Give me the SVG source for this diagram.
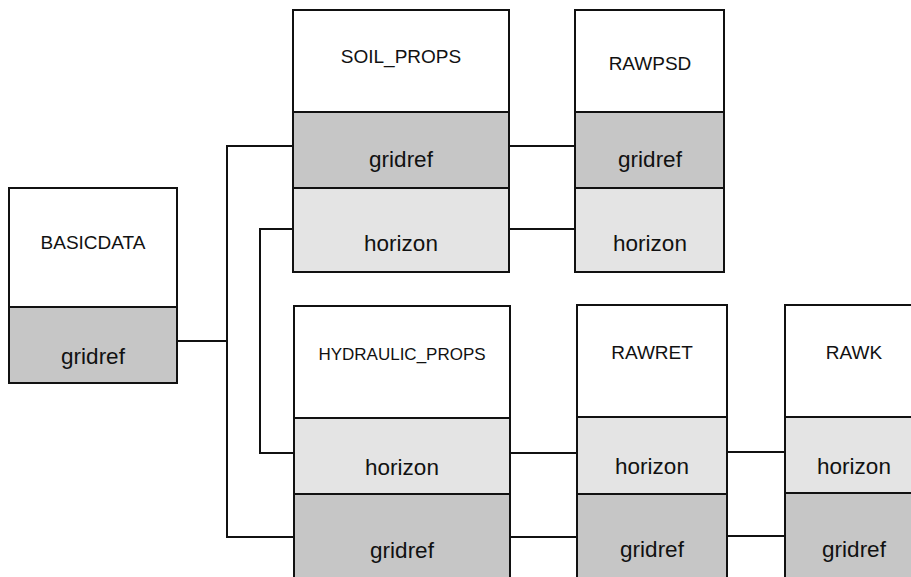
<svg xmlns="http://www.w3.org/2000/svg" width="911" height="577" viewBox="0 0 911 577">
  <style>
    .box { stroke: #111; stroke-width: 2; }
    .title { fill: #fff; }
    .key { fill: #c6c6c6; }
    .hz { fill: #e4e4e4; }
    .wire { fill: none; stroke: #111; stroke-width: 2; }
    text { font-family: "Liberation Sans", Arial, sans-serif; fill: #111; text-anchor: middle; }
    .name { font-size: 19px; }
    .field { font-size: 22.5px; }
  </style>

  <!-- relations between tables -->
  <g id="connectors">
    <polyline class="wire" points="177,341 227,341"/>
    <polyline class="wire" points="293,146 227,146 227,537 294,537"/>
    <polyline class="wire" points="293,229 260,229 260,453 294,453"/>
    <line class="wire" x1="509" y1="146" x2="575" y2="146"/>
    <line class="wire" x1="509" y1="229" x2="575" y2="229"/>
    <line class="wire" x1="510" y1="453" x2="577" y2="453"/>
    <line class="wire" x1="510" y1="537" x2="577" y2="537"/>
    <line class="wire" x1="727" y1="452" x2="785" y2="452"/>
    <line class="wire" x1="727" y1="536" x2="785" y2="536"/>
  </g>

  <g id="basicdata">
    <rect class="box title" x="9" y="188" width="168" height="119"/>
    <rect class="box key" x="9" y="307" width="168" height="76"/>
    <text class="name" x="93" y="249">BASICDATA</text>
    <text class="field" x="93" y="364">gridref</text>
  </g>

  <g id="soil_props">
    <rect class="box title" x="293" y="10" width="216" height="102"/>
    <rect class="box key" x="293" y="112" width="216" height="76"/>
    <rect class="box hz" x="293" y="188" width="216" height="84"/>
    <text class="name" x="401" y="63">SOIL_PROPS</text>
    <text class="field" x="401" y="167">gridref</text>
    <text class="field" x="401" y="251">horizon</text>
  </g>

  <g id="rawpsd">
    <rect class="box title" x="575" y="10" width="149" height="102"/>
    <rect class="box key" x="575" y="112" width="149" height="76"/>
    <rect class="box hz" x="575" y="188" width="149" height="84"/>
    <text class="name" x="650" y="70">RAWPSD</text>
    <text class="field" x="650" y="167">gridref</text>
    <text class="field" x="650" y="251">horizon</text>
  </g>

  <g id="hydraulic_props">
    <rect class="box title" x="294" y="306" width="216" height="112"/>
    <rect class="box hz" x="294" y="418" width="216" height="76"/>
    <rect class="box key" x="294" y="494" width="216" height="100"/>
    <text class="name" x="402" y="360" style="font-size:17px">HYDRAULIC_PROPS</text>
    <text class="field" x="402" y="475">horizon</text>
    <text class="field" x="402" y="558">gridref</text>
  </g>

  <g id="rawret">
    <rect class="box title" x="577" y="305" width="150" height="112"/>
    <rect class="box hz" x="577" y="417" width="150" height="77"/>
    <rect class="box key" x="577" y="494" width="150" height="100"/>
    <text class="name" x="652" y="359">RAWRET</text>
    <text class="field" x="652" y="474">horizon</text>
    <text class="field" x="652" y="557">gridref</text>
  </g>

  <g id="rawk">
    <rect class="box title" x="785" y="305" width="140" height="112"/>
    <rect class="box hz" x="785" y="417" width="140" height="76"/>
    <rect class="box key" x="785" y="493" width="140" height="100"/>
    <text class="name" x="854" y="359">RAWK</text>
    <text class="field" x="854" y="474">horizon</text>
    <text class="field" x="854" y="557">gridref</text>
  </g>
</svg>
